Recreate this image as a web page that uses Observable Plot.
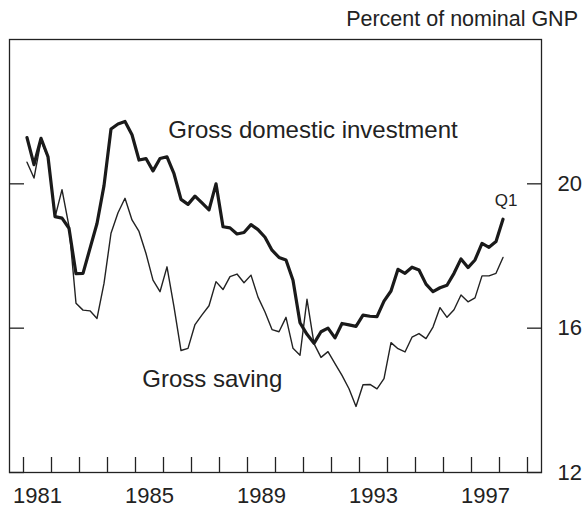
<!DOCTYPE html>
<html>
<head>
<meta charset="utf-8">
<script src="https://cdn.jsdelivr.net/npm/d3@7"></script>
<script src="https://cdn.jsdelivr.net/npm/@observablehq/plot@0.6"></script>
<style>
  html, body { margin: 0; padding: 0; background: #fff; }
  body { font-family: "Liberation Sans", Arial, Helvetica, sans-serif; color: #222; }
  #wrap { width: 582px; }
  #unit { height: 30px; box-sizing: border-box; padding-top: 9px; padding-right: 4px;
          font-size: 21.5px; line-height: 1; text-align: right; white-space: nowrap; }
  #chart svg { display: block; overflow: visible; }
</style>
</head>
<body>
<div id="wrap">
  <div id="unit">Percent of nominal GNP</div>
  <div id="chart"></div>
</div>
<script>
// Quarterly data, 1981:Q1 to 1998:Q1, percent of nominal GNP
const startYear = 1981;
const investment = [
  21.28, 20.53, 21.26, 20.75, 19.09, 19.05, 18.77, 17.51, 17.52, 18.21,
  18.90, 19.95, 21.52, 21.66, 21.73, 21.36, 20.66, 20.70, 20.36, 20.70,
  20.75, 20.28, 19.57, 19.43, 19.66, 19.47, 19.28, 20.00, 18.81, 18.78,
  18.61, 18.65, 18.87, 18.73, 18.52, 18.16, 17.96, 17.89, 17.33, 16.15,
  15.83, 15.58, 15.90, 16.00, 15.73, 16.13, 16.09, 16.05, 16.36, 16.33,
  16.32, 16.75, 17.03, 17.63, 17.52, 17.69, 17.61, 17.22, 17.01, 17.12,
  17.19, 17.52, 17.92, 17.68, 17.89, 18.35, 18.24, 18.40, 19.02
];
const saving = [
  20.60, 20.16, 21.20, 20.72, 19.07, 19.84, 18.82, 16.69, 16.50, 16.48,
  16.27, 17.24, 18.63, 19.20, 19.60, 19.00, 18.68, 18.07, 17.33, 17.01,
  17.70, 16.59, 15.38, 15.44, 16.10, 16.37, 16.62, 17.29, 17.07, 17.43,
  17.50, 17.26, 17.47, 16.86, 16.45, 15.96, 15.90, 16.30, 15.44, 15.25,
  16.80, 15.57, 15.19, 15.35, 15.02, 14.69, 14.32, 13.83, 14.43, 14.44,
  14.32, 14.60, 15.60, 15.43, 15.34, 15.75, 15.85, 15.71, 16.03, 16.57,
  16.30, 16.51, 16.92, 16.73, 16.84, 17.45, 17.45, 17.52, 17.96
];
const yTicks = [12, 16, 20];
const yearTicks = [1981, 1982, 1983, 1984, 1985, 1986, 1987, 1988, 1989, 1990,
                   1991, 1992, 1993, 1994, 1995, 1996, 1997, 1998, 1999];
const yearLabels = [1981, 1985, 1989, 1993, 1997];
const seriesLabels = ["Gross domestic investment", "Gross saving"];
const seriesLabelX = [1986.17, 1985.24];
const seriesLabelY = [21.28, 14.36];
const endLabel = "Q1";

// quarter midpoints as fractional years
const rows = investment.map((v, i) => ({
  t: startYear + (i + 0.5) / 4,
  inv: v,
  sav: saving[i]
}));
const labelRows = seriesLabels.map((s, i) => ({text: s, x: seriesLabelX[i], y: seriesLabelY[i]}));
const last = rows[rows.length - 1];
const endRows = [{text: endLabel, x: last.t, y: last.inv}];

const chart = Plot.plot({
  width: 582,
  height: 478,
  marginTop: 9,
  marginBottom: 36,
  marginLeft: 9,
  marginRight: 41,
  style: {fontFamily: "'Liberation Sans', Arial, Helvetica, sans-serif", fontSize: "22px", color: "#222", background: "white", overflow: "visible"},
  x: {domain: [1980.5, 1999.5]},
  y: {domain: [12, 24]},
  marks: [
    Plot.frame({stroke: "#222", strokeWidth: 1.3}),
    // tick marks pointing inward
    Plot.axisY(yTicks, {anchor: "right", tickSize: -15, fill: "none", label: null, strokeWidth: 1.3}),
    Plot.axisY(yTicks, {anchor: "left", tickSize: -15, fill: "none", label: null, strokeWidth: 1.3}),
    Plot.axisX(yearTicks, {anchor: "bottom", tickSize: -15, fill: "none", label: null, strokeWidth: 1.3}),
    // tick labels
    Plot.axisY(yTicks, {anchor: "right", tickSize: 0, tickPadding: 16, label: null, fontSize: 22, fill: "#222"}),
    Plot.axisX(yearLabels.map(d => d + 0.5), {anchor: "bottom", tickSize: 0, tickPadding: 15, label: null,
      tickFormat: d => String(Math.floor(d)), fontSize: 22, fill: "#222"}),
    // series
    Plot.line(rows, {x: "t", y: "sav", stroke: "#222", strokeWidth: 1.4}),
    Plot.line(rows, {x: "t", y: "inv", stroke: "#1a1a1a", strokeWidth: 3.2}),
    // labels
    Plot.text(labelRows, {x: "x", y: "y", text: "text", textAnchor: "start", lineAnchor: "bottom", fontSize: 24, fill: "#222"}),
    Plot.text(endRows, {x: "x", y: "y", text: "text", textAnchor: "middle", lineAnchor: "bottom", dx: 3, dy: -13, fontSize: 17, fill: "#222"})
  ]
});
document.getElementById("chart").appendChild(chart);
</script>
</body>
</html>
